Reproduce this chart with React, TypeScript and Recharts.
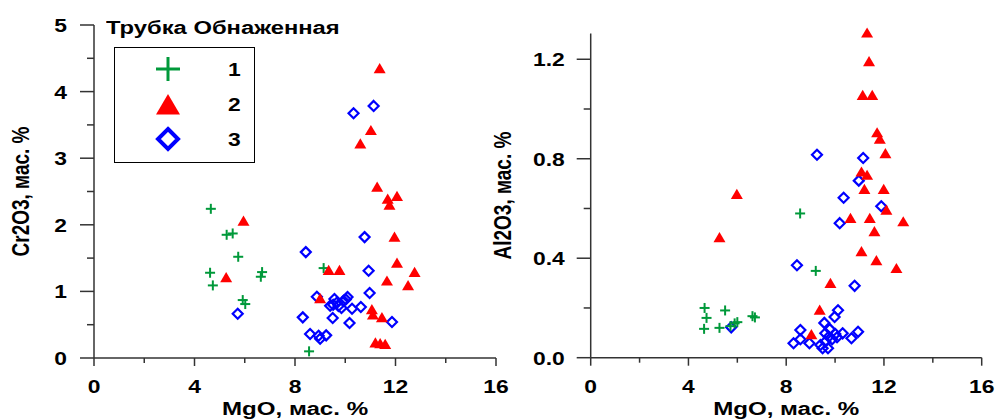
import React from 'react';
import { ScatterChart, Scatter, XAxis, YAxis, Label, Legend } from 'recharts';

// tick values
const mgoTicks = [0, 2, 4, 6, 8, 10, 12, 14, 16];
const crTicks = [0, 0.5, 1, 1.5, 2, 2.5, 3, 3.5, 4, 4.5, 5];
const alTicks = [0, 0.2, 0.4, 0.6, 0.8, 1.0, 1.2];

// Cr2O3 vs MgO, [MgO, Cr2O3]
const crGroup1 = [
  [4.62, 1.28], [4.65, 2.24], [4.73, 1.09], [5.28, 1.85], [5.52, 1.87], [5.74, 1.52],
  [5.92, 0.87], [6.02, 0.81], [6.64, 1.22], [6.69, 1.29], [8.56, 0.1], [9.14, 1.35],
];
const crGroup2 = [
  [5.26, 1.2], [5.95, 2.05], [9.0, 0.885], [9.34, 1.31], [9.77, 1.31], [10.6, 3.21],
  [11.02, 3.41], [11.06, 0.72], [11.1, 0.64], [11.2, 0.22], [11.27, 2.56], [11.37, 4.34],
  [11.39, 0.21], [11.46, 0.6], [11.59, 0.2], [11.66, 1.15], [11.69, 2.38], [11.76, 2.29],
  [11.96, 1.81], [12.06, 2.42], [12.06, 1.42], [12.5, 1.08], [12.76, 1.28],
];
const crGroup3 = [
  [5.72, 0.665], [8.31, 0.61], [8.43, 1.59], [8.6, 0.36], [8.87, 0.92], [8.94, 0.335],
  [9.0, 0.29], [9.24, 0.34], [9.4, 0.785], [9.5, 0.6], [9.52, 0.8], [9.57, 0.885],
  [9.66, 0.83], [9.73, 0.78], [9.85, 0.75], [9.93, 0.86], [10.02, 0.88], [10.09, 0.915],
  [10.17, 0.525], [10.27, 0.74], [10.33, 3.675], [10.62, 0.765], [10.77, 1.815],
  [10.93, 1.31], [10.97, 0.975], [11.13, 3.785], [11.86, 0.54],
];

// Al2O3 vs MgO, [MgO, Al2O3]
const alGroup1 = [
  [4.64, 0.116], [4.66, 0.2], [4.74, 0.16], [5.27, 0.12], [5.5, 0.19], [5.72, 0.127],
  [5.89, 0.138], [6.0, 0.143], [6.62, 0.167], [6.72, 0.162], [8.57, 0.58], [9.21, 0.349],
];
const alGroup2 = [
  [5.27, 0.481], [5.98, 0.655], [9.03, 0.091], [9.37, 0.19], [9.81, 0.297], [10.63, 0.559],
  [11.08, 0.745], [11.08, 0.425], [11.13, 1.053], [11.2, 0.675], [11.31, 1.304], [11.31, 0.732],
  [11.39, 1.189], [11.42, 0.559], [11.52, 1.053], [11.61, 0.505], [11.69, 0.389], [11.72, 0.903],
  [11.83, 0.877], [11.99, 0.675], [12.06, 0.819], [12.1, 0.592], [12.51, 0.357], [12.79, 0.545],
];
const alGroup3 = [
  [5.75, 0.122], [8.3, 0.058], [8.44, 0.372], [8.58, 0.111], [8.58, 0.074], [8.95, 0.058],
  [9.26, 0.816], [9.4, 0.051], [9.49, 0.038], [9.56, 0.14], [9.6, 0.098], [9.6, 0.064],
  [9.71, 0.038], [9.74, 0.084], [9.78, 0.115], [9.88, 0.074], [9.98, 0.164], [10.01, 0.095],
  [10.08, 0.082], [10.12, 0.191], [10.19, 0.541], [10.31, 0.098], [10.35, 0.643], [10.67, 0.078],
  [10.8, 0.289], [10.94, 0.104], [10.97, 0.712], [11.15, 0.803], [11.89, 0.609],
];

const GREEN = '#00993a';
const RED = '#ff0000';
const BLUE = '#0000ff';
const AXIS = '#333';
const SX = 1.27; // the original is stretched sideways
const font = {
  fontFamily: '"Liberation Sans", Arial, sans-serif',
  fontWeight: 'bold' as const,
  fontSize: 18,
  fill: '#000',
};

const toPoints = (arr: number[][]) => arr.map(([x, y]) => ({ x, y }));

const Plus = ({ cx, cy, r = 5, w = 2 }: any) => (
  <g stroke={GREEN} strokeWidth={w}>
    <line x1={cx - r} y1={cy} x2={cx + r} y2={cy} />
    <line x1={cx} y1={cy - r} x2={cx} y2={cy + r} />
  </g>
);

const Tri = ({ cx, cy, r = 6 }: any) => (
  <polygon
    points={`${cx},${cy - r} ${cx - r},${cy + r * 0.7} ${cx + r},${cy + r * 0.7}`}
    fill={RED}
  />
);

const Diamond = ({ cx, cy, r = 5, w = 2.2 }: any) => (
  <polygon
    points={`${cx},${cy - r} ${cx + r},${cy} ${cx},${cy + r} ${cx - r},${cy}`}
    fill="none"
    stroke={BLUE}
    strokeWidth={w}
  />
);

const XTick = (props: any) => {
  const { x, y, payload } = props;
  const major = payload.value % 4 === 0;
  return (
    <g>
      <line x1={x} y1={y} x2={x} y2={y + (major ? 8 : 5)} stroke={AXIS} strokeWidth={1.5} />
      {major && (
        <text transform={`translate(${x},${y + 35}) scale(${SX},1)`} textAnchor="middle" style={font}>
          {payload.value}
        </text>
      )}
    </g>
  );
};

const makeYTick = (isMajor: (v: number) => boolean, fmt: (v: number) => string, gap: number) =>
  (props: any) => {
    const { x, y, payload } = props;
    const major = isMajor(payload.value);
    return (
      <g>
        <line x1={x - (major ? 14 : 7)} y1={y} x2={x} y2={y} stroke={AXIS} strokeWidth={1.5} />
        {major && (
          <text transform={`translate(${x - gap},${y + 7}) scale(${SX},1)`} textAnchor="end" style={font}>
            {fmt(payload.value)}
          </text>
        )}
      </g>
    );
  };

const crTick = makeYTick((v) => Number.isInteger(v), (v) => String(v), 27);
const alTick = makeYTick((v) => Math.round(v * 10) % 4 === 0, (v) => v.toFixed(1), 26);

const xTitle = (props: any) => {
  const { x, y, width } = props.viewBox;
  return (
    <text transform={`translate(${x + width / 2},${y + 57}) scale(${SX},1)`} textAnchor="middle" style={{ ...font, fontSize: 19 }}>
      MgO, мас. %
    </text>
  );
};

const yTitle = (text: string, dx: number) => (props: any) => {
  const { x, y, width, height } = props.viewBox;
  return (
    <text
      transform={`translate(${x + width - dx},${y + height / 2}) scale(${SX},1) rotate(-90)`}
      textAnchor="middle"
      style={{ ...font, fontSize: 19 }}
    >
      {text}
    </text>
  );
};

const legendMarker = (name: string) => {
  if (name === '1') return <Plus cx={13} cy={9} r={12} w={3} />;
  if (name === '2') return <Tri cx={13} cy={11} r={12} />;
  return <Diamond cx={13} cy={9} r={10} w={4} />;
};

const renderLegend = (props: any) => {
  const items = [...(props.payload || [])].sort((a: any, b: any) => String(a.value).localeCompare(String(b.value)));
  return (
    <div style={{ width: 141, height: 116, border: '1px solid #000', boxSizing: 'border-box', paddingTop: 6, background: '#fff' }}>
      {items.map((item: any) => (
        <div key={item.value} style={{ height: 35, position: 'relative' }}>
          <svg width={26} height={22} style={{ position: 'absolute', left: 40, top: 6, overflow: 'visible' }}>
            {legendMarker(String(item.value))}
          </svg>
          <span
            style={{
              ...font,
              position: 'absolute',
              left: 113,
              top: 7,
              lineHeight: '18px',
              color: '#000',
              transform: `scaleX(${SX})`,
              transformOrigin: 'left',
            }}
          >
            {item.value}
          </span>
        </div>
      ))}
    </div>
  );
};

export default function App() {
  return (
    <div style={{ position: 'absolute', left: 0, top: 0, width: 997, height: 419, background: '#fff' }}>
      <div style={{ position: 'absolute', left: 0, top: 0 }}>
        <ScatterChart width={530} height={419} margin={{ top: 25, right: 34, bottom: 60, left: 93 }}>
          <XAxis
            type="number"
            dataKey="x"
            domain={[0, 16]}
            ticks={mgoTicks}
            interval={0}
            height={1}
            tickSize={0}
            tickMargin={0}
            tickLine={false}
            axisLine={{ stroke: AXIS, strokeWidth: 1.5 }}
            tick={XTick}
          >
            <Label content={xTitle} />
          </XAxis>
          <YAxis
            type="number"
            dataKey="y"
            domain={[0, 5]}
            ticks={crTicks}
            interval={0}
            width={1}
            tickSize={0}
            tickMargin={0}
            tickLine={false}
            axisLine={{ stroke: AXIS, strokeWidth: 1.5 }}
            tick={crTick}
          >
            <Label content={yTitle('Cr2O3, мас. %', 65)} />
          </YAxis>
          <Legend
            layout="vertical"
            align="center"
            verticalAlign="middle"
            content={renderLegend}
            wrapperStyle={{ left: 114, top: 47, width: 141, height: 116 }}
          />
          <Scatter name="3" data={toPoints(crGroup3)} isAnimationActive={false} shape={(p: any) => <Diamond cx={p.cx} cy={p.cy} />} />
          <Scatter name="1" data={toPoints(crGroup1)} isAnimationActive={false} shape={(p: any) => <Plus cx={p.cx} cy={p.cy} />} />
          <Scatter name="2" data={toPoints(crGroup2)} isAnimationActive={false} shape={(p: any) => <Tri cx={p.cx} cy={p.cy} />} />
        </ScatterChart>
      </div>
      <div
        style={{
          position: 'absolute',
          left: 106,
          top: 19,
          ...font,
          lineHeight: '18px',
          whiteSpace: 'nowrap',
          transform: 'scaleX(1.32)',
          transformOrigin: 'left',
        }}
      >
        Трубка Обнаженная
      </div>
      <div style={{ position: 'absolute', left: 460, top: 0 }}>
        <ScatterChart width={537} height={419} margin={{ top: 33.4, right: 15.3, bottom: 60.3, left: 129.7 }}>
          <XAxis
            type="number"
            dataKey="x"
            domain={[0, 16]}
            ticks={mgoTicks}
            interval={0}
            height={1}
            tickSize={0}
            tickMargin={0}
            tickLine={false}
            axisLine={{ stroke: AXIS, strokeWidth: 1.5 }}
            tick={XTick}
          >
            <Label content={xTitle} />
          </XAxis>
          <YAxis
            type="number"
            dataKey="y"
            domain={[0, 1.3]}
            ticks={alTicks}
            interval={0}
            width={1}
            tickSize={0}
            tickMargin={0}
            tickLine={false}
            axisLine={{ stroke: AXIS, strokeWidth: 1.5 }}
            tick={alTick}
          >
            <Label content={yTitle('Al2O3, мас. %', 80)} />
          </YAxis>
          <Scatter name="3" data={toPoints(alGroup3)} isAnimationActive={false} shape={(p: any) => <Diamond cx={p.cx} cy={p.cy} />} />
          <Scatter name="1" data={toPoints(alGroup1)} isAnimationActive={false} shape={(p: any) => <Plus cx={p.cx} cy={p.cy} />} />
          <Scatter name="2" data={toPoints(alGroup2)} isAnimationActive={false} shape={(p: any) => <Tri cx={p.cx} cy={p.cy} />} />
        </ScatterChart>
      </div>
    </div>
  );
}
